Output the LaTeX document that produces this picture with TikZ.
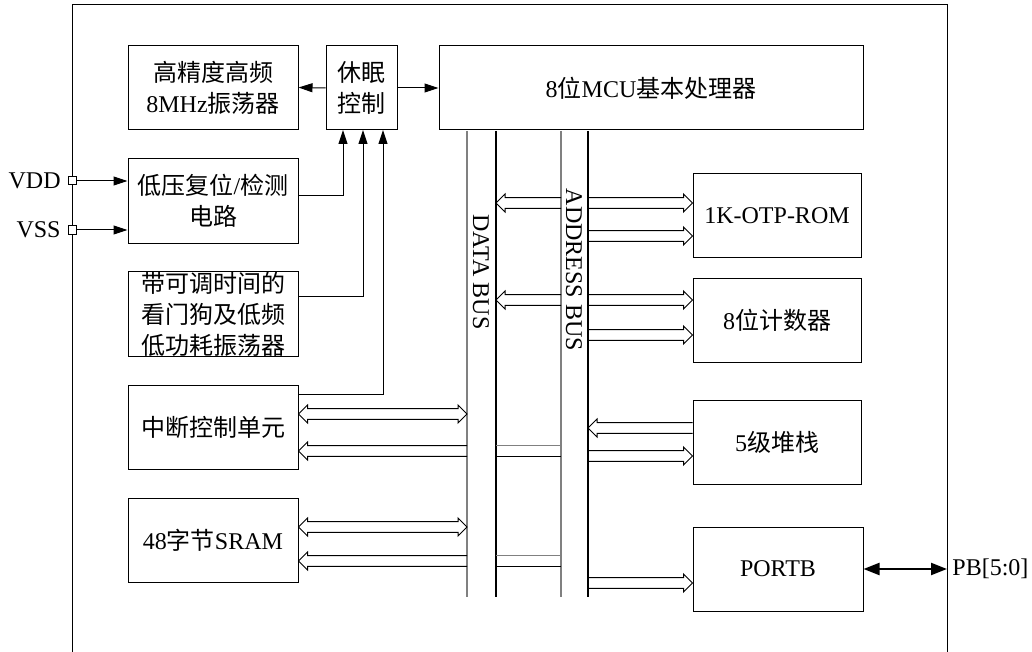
\documentclass[tikz,border=0pt]{standalone}
\usepackage{fontspec}
\setmainfont{Liberation Serif}
\newfontfamily\cjk{Noto Sans CJK SC}
\usetikzlibrary{arrows.meta,calc}

\newcommand\zh[1]{{\cjk #1}}
\def\bodyh{2.65pt}
\def\headh{4.5pt}
\def\headl{4.5pt}

% hollow bus arrow: tail at #1, head at the x of #2 (height of #1)
\newcommand\busarrow[2]{%
  \draw[hollow] let \p1=(#1), \p2=(#2), \n1={sign(\x2-\x1)} in
    (\x1,\y1+\bodyh) -- (\x2-\n1*\headl,\y1+\bodyh) -- (\x2-\n1*\headl,\y1+\headh)
    -- (\x2,\y1) -- (\x2-\n1*\headl,\y1-\headh) -- (\x2-\n1*\headl,\y1-\bodyh)
    -- (\x1,\y1-\bodyh);}
% hollow bus arrow with two heads
\newcommand\busboth[2]{%
  \draw[hollow] let \p1=(#1), \p2=(#2), \n1={sign(\x2-\x1)} in
    (\x1,\y1) -- (\x1+\n1*\headl,\y1+\headh) -- (\x1+\n1*\headl,\y1+\bodyh)
    -- (\x2-\n1*\headl,\y1+\bodyh) -- (\x2-\n1*\headl,\y1+\headh) -- (\x2,\y1)
    -- (\x2-\n1*\headl,\y1-\headh) -- (\x2-\n1*\headl,\y1-\bodyh)
    -- (\x1+\n1*\headl,\y1-\bodyh) -- (\x1+\n1*\headl,\y1-\headh) -- cycle;}
% bus lines running under the data bus band
\newcommand\buscross[1]{%
  \draw[gray, line width=0.6pt] ([yshift=\bodyh]dbR |- 0,#1) -- ([yshift=\bodyh]abL |- 0,#1);
  \draw[line width=0.8pt] ([yshift=-\bodyh]dbR |- 0,#1) -- ([yshift=-\bodyh]abL |- 0,#1);}

\begin{document}
\begin{tikzpicture}[
  x=0.5pt, y=-0.5pt,
  blk/.style={draw, line width=0.5pt, minimum width=85pt, minimum height=42pt,
              align=center, inner sep=0pt, font=\fontsize{12}{15.5}\selectfont},
  lbl/.style={inner sep=0pt, font=\fontsize{12}{15.5}\selectfont},
  pin/.style={draw, line width=0.5pt, fill=white, minimum size=4pt, inner sep=0pt},
  arr/.style={line width=0.5pt, -{Triangle[length=7pt,width=4.5pt]}},
  hollow/.style={line width=0.5pt},
  busgray/.style={gray, line width=0.6pt},
  busblack/.style={line width=1pt}
]
  \useasboundingbox (0,0) rectangle (1032,652);

  % ── Chip outline (runs off the bottom) ─────────────────────────────────
  \draw[line width=0.5pt] (72,652) -- (72,5) -- (947,5) -- (947,652);

  % ── Blocks ─────────────────────────────────────────────────────────────
  \node[blk] (osc) at (213,87.5)
      {\zh{高精度高频}\\8MHz\zh{振荡器}};
  \node[blk, minimum width=35.5pt] (sleep) at (361.5,88)
      {\zh{休眠}\\\zh{控制}};
  \node[blk, minimum width=212pt] (mcu) at (651,88)
      {8\zh{位}MCU\zh{基本处理器}};
  \node[blk] (lvr)   at (213,201) {\zh{低压复位}/\zh{检测}\\\zh{电路}};
  \node[blk] (wdt)   at (213,314)
      {\zh{带可调时间的}\\\zh{看门狗及低频}\\\zh{低功耗振荡器}};
  \node[blk] (int)   at (213,427) {\zh{中断控制单元}};
  \node[blk] (sram)  at (213,540) {48\zh{字节}SRAM};
  \node[blk, minimum width=84pt] (otp)   at (777,215.5) {1K-OTP-ROM};
  \node[blk, minimum width=84pt] (cnt)   at (777,320)   {8\zh{位计数器}};
  \node[blk, minimum width=84pt] (stack) at (777,442)   {5\zh{级堆栈}};
  \node[blk] (portb) at (778,569) {PORTB};

  % ── Pins ───────────────────────────────────────────────────────────────
  \node[pin] (vdd) at (72,181) {};
  \node[pin] (vss) at (72,230) {};
  \node[lbl, anchor=east] (vddtxt) at (61,181) {VDD};
  \node[lbl, anchor=east] (vsstxt) at (61,230) {VSS};
  \coordinate (pb) at (947,569);
  \node[lbl, anchor=west] (pbtxt) at (952,569) {PB[5:0]};

  \draw[arr] (vdd.east) -- (vdd.east -| lvr.west);
  \draw[arr] (vss.east) -- (vss.east -| lvr.west);
  \draw[line width=1.1pt, {Triangle[length=8pt,width=6pt]}-{Triangle[length=8pt,width=6pt]}]
    (portb.east) -- (pb);

  % ── Sleep control ──────────────────────────────────────────────────────
  \draw[arr] (sleep.west) -- (osc.east);
  \draw[arr] (sleep.east) -- (mcu.west);
  \coordinate (s1) at (343,130);
  \coordinate (s2) at (363,130);
  \coordinate (s3) at (383,130);
  \draw[arr] (lvr.east |- 0,196) -| (s1);
  \draw[arr] (wdt.east |- 0,296) -| (s2);
  \draw[arr] (int.east |- 0,394) -| (s3);

  % ── Buses ──────────────────────────────────────────────────────────────
  \coordinate (dbL) at (467,131);
  \coordinate (dbR) at (496,131);
  \coordinate (abL) at (561,131);
  \coordinate (abR) at (588,131);
  \coordinate (busend) at (0,597);
  \draw[busgray]  (dbL) -- (dbL |- busend);
  \draw[busblack] (dbR) -- (dbR |- busend);
  \draw[busgray]  (abL) -- (abL |- busend);
  \draw[busblack] (abR) -- (abR |- busend);
  \node[lbl, rotate=-90] (dbtxt) at (481,272) {DATA BUS};
  \node[lbl, rotate=-90] (abtxt) at (574,270) {ADDRESS BUS};

  % ROM and counter
  \busarrow{abL |- 0,203}{dbR}
  \busarrow{abR |- 0,203}{otp.west}
  \busarrow{abR |- 0,236}{otp.west}
  \busarrow{abL |- 0,300}{dbR}
  \busarrow{abR |- 0,300}{cnt.west}
  \busarrow{abR |- 0,335}{cnt.west}

  % stack and port
  \busarrow{stack.west |- 0,428}{abR}
  \busarrow{abR |- 0,456}{stack.west}
  \busarrow{abR |- 0,583}{portb.west}

  % interrupt unit and RAM
  \busboth{int.east |- 0,414}{dbL}
  \busarrow{dbL |- 0,451}{int.east}
  \buscross{451}
  \busboth{sram.east |- 0,527}{dbL}
  \busarrow{dbL |- 0,561}{sram.east}
  \buscross{561}

\end{tikzpicture}
\end{document}
